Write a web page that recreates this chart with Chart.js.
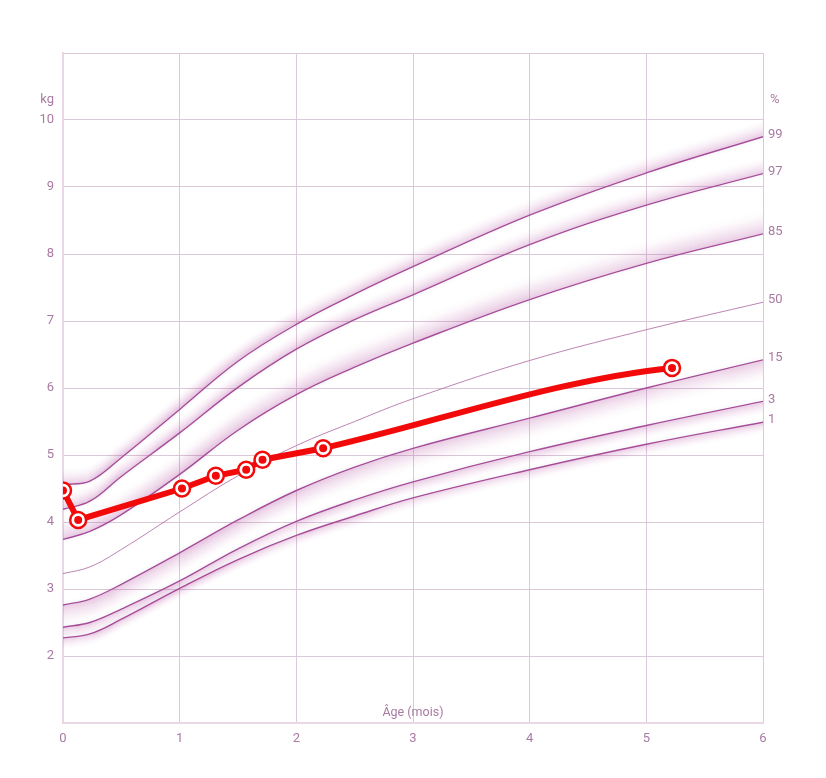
<!DOCTYPE html>
<html>
<head>
<meta charset="utf-8">
<script src="https://cdn.jsdelivr.net/npm/chart.js@4/dist/chart.umd.min.js"></script>
<style>
  html, body { margin: 0; padding: 0; background: #fff; }
  #wrap { width: 826px; height: 778px; }
</style>
</head>
<body>
<div id="wrap"><canvas id="growth" width="826" height="778"></canvas></div>
<script>
// reference curves (age in months, weight in kg)
const ages = [0, 0.23, 0.5, 1, 1.5, 2, 2.5, 3, 4, 5, 6];
const p99 = [4.56, 4.61, 4.96, 5.68, 6.4, 6.95, 7.4, 7.81, 8.58, 9.21, 9.75];
const p97 = [4.19, 4.31, 4.68, 5.33, 6.01, 6.58, 7.02, 7.39, 8.14, 8.73, 9.2];
const p85 = [3.74, 3.86, 4.11, 4.71, 5.37, 5.9, 6.31, 6.67, 7.32, 7.86, 8.3];
const p50 = [3.23, 3.33, 3.59, 4.15, 4.69, 5.14, 5.5, 5.84, 6.41, 6.87, 7.28];
const p15 = [2.76, 2.85, 3.07, 3.54, 4.03, 4.47, 4.82, 5.1, 5.55, 6.0, 6.42];
const p3 = [2.43, 2.5, 2.7, 3.12, 3.6, 4.01, 4.33, 4.6, 5.05, 5.44, 5.8];
const p1 = [2.27, 2.33, 2.55, 3.01, 3.44, 3.8, 4.09, 4.36, 4.78, 5.16, 5.49];

// measured weights
const visitAges = [0, 0.13, 1.02, 1.31, 1.57, 1.71, 2.23, 5.22];
const visitWeights = [4.47, 4.03, 4.5, 4.69, 4.78, 4.93, 5.1, 6.3];

const monthTicks = [0, 1, 2, 3, 4, 5, 6];
const kgTicks = [2, 3, 4, 5, 6, 7, 8, 9, 10];

const TEXT = "#a97ba3";
const GRID = "#dbc8d8";
const RED = "#f20a0a";

function toPoints(xs, ys) {
  return xs.map((x, i) => ({ x: x, y: ys[i] }));
}

const curves = [
  { label: "99", values: p99, band: 18, dir: -1 },
  { label: "97", values: p97, band: 18, dir: -1 },
  { label: "85", values: p85, band: 26, dir: -1 },
  { label: "50", values: p50, band: 0, dir: 0 },
  { label: "15", values: p15, band: 24, dir: 1 },
  { label: "3", values: p3, band: 14, dir: 1 },
  { label: "1", values: p1, band: 12, dir: 1 },
];

const curveDatasets = curves.map((c) => ({
  label: c.label,
  data: toPoints(ages, c.values),
  borderColor: c.band ? "#a64c98" : "rgba(176, 110, 166, 0.85)",
  borderWidth: c.band ? 1.4 : 1,
  pointRadius: 0,
  tension: 0.4,
  order: 10,
  band: c.band,
  bandDir: c.dir,
  percentile: true,
}));

// fuzzy shading on the outer side of each percentile line
const curveBands = {
  id: "curveBands",
  beforeDatasetDraw(chart, args) {
    const ds = chart.data.datasets[args.index];
    if (!ds.band) return;
    const line = args.meta.dataset;
    const area = chart.chartArea;
    const ctx = chart.ctx;
    line.updateControlPoints(area, "x");
    ctx.save();
    ctx.beginPath();
    ctx.rect(area.left, area.top, area.right - area.left, area.bottom - area.top);
    ctx.clip();
    ctx.lineWidth = 1.5;
    for (let k = ds.band; k >= 1; k--) {
      const a = 0.2 * Math.pow(1 - k / (ds.band + 1), 2);
      ctx.strokeStyle = "rgba(176, 70, 156, " + a + ")";
      ctx.beginPath();
      ctx.save();
      ctx.translate(0, ds.bandDir * k);
      line.path(ctx);
      ctx.restore();
      ctx.stroke();
    }
    // faint cool shadow on the inner side
    for (let k = 4; k >= 1; k--) {
      ctx.strokeStyle = "rgba(190, 195, 220, " + 0.08 * (1 - k / 5) + ")";
      ctx.beginPath();
      ctx.save();
      ctx.translate(0, -ds.bandDir * k);
      line.path(ctx);
      ctx.restore();
      ctx.stroke();
    }
    ctx.restore();
  },
};

// visits are joined by straight segments, the long last one eases in
const easedLastVisit = {
  id: "easedLastVisit",
  beforeDatasetDraw(chart, args) {
    const ds = chart.data.datasets[args.index];
    if (!ds.easeLast) return;
    const line = args.meta.dataset;
    line.updateControlPoints(chart.chartArea, "x");
    const pts = line.points;
    const n = pts.length;
    for (let i = 0; i < n - 2; i++) {
      pts[i].cp2x = pts[i].x;
      pts[i].cp2y = pts[i].y;
      pts[i + 1].cp1x = pts[i + 1].x;
      pts[i + 1].cp1y = pts[i + 1].y;
    }
    const a = pts[n - 2];
    const b = pts[n - 1];
    const dx = (b.x - a.x) / 3;
    const dy = (b.y - a.y) / 3;
    a.cp2x = a.x + dx;
    a.cp2y = a.y + dy;
    b.cp1x = b.x - dx;
    b.cp1y = b.y - dy * 0.45;
  },
};

const chartTexts = {
  id: "chartTexts",
  afterDraw(chart) {
    const ctx = chart.ctx;
    const area = chart.chartArea;
    const x = chart.scales.x;
    const y = chart.scales.y;
    ctx.save();
    ctx.fillStyle = TEXT;
    ctx.font = "13px Roboto, 'Liberation Sans', sans-serif";
    ctx.textBaseline = "middle";

    ctx.textAlign = "right";
    ctx.fillText("kg", area.left - 9, y.getPixelForValue(10) - 20);
    ctx.textAlign = "left";
    ctx.fillText("%", area.right + 7, y.getPixelForValue(10) - 20);

    chart.data.datasets.forEach((ds, i) => {
      if (!ds.percentile) return;
      const pts = chart.getDatasetMeta(i).data;
      const last = pts[pts.length - 1];
      ctx.fillText(ds.label, area.right + 5, last.y - 2);
    });

    ctx.textAlign = "center";
    ctx.font = "12.5px Roboto, 'Liberation Sans', sans-serif";
    ctx.fillText("Âge (mois)", x.getPixelForValue(3), area.bottom - 10);
    ctx.restore();
  },
};

new Chart(document.getElementById("growth"), {
  type: "line",
  data: {
    datasets: [
      {
        label: "dots",
        data: toPoints(visitAges, visitWeights),
        showLine: false,
        pointRadius: 4,
        pointBorderWidth: 0,
        pointBackgroundColor: RED,
        order: 1,
      },
      {
        label: "poids",
        data: toPoints(visitAges, visitWeights),
        borderColor: RED,
        borderWidth: 6,
        tension: 0.4,
        pointRadius: 8,
        pointBorderWidth: 2.5,
        pointBorderColor: RED,
        pointBackgroundColor: "#ffffff",
        order: 2,
        easeLast: true,
      },
      ...curveDatasets,
    ],
  },
  options: {
    responsive: false,
    animation: false,
    events: [],
    layout: {
      padding: { top: 53, right: 63, left: 0, bottom: 0 },
    },
    plugins: {
      legend: { display: false },
      tooltip: { enabled: false },
    },
    scales: {
      x: {
        type: "linear",
        min: 0,
        max: 6,
        afterFit: function (scale) {
          scale.height = 55;
        },
        afterBuildTicks: function (scale) {
          scale.ticks = monthTicks.map((v) => ({ value: v }));
        },
        grid: { color: GRID, lineWidth: 1, drawTicks: false },
        border: { color: "#e9d7e5", width: 2 },
        ticks: {
          color: TEXT,
          padding: 8,
          maxRotation: 0,
          font: { family: "Roboto, 'Liberation Sans', sans-serif", size: 13 },
        },
      },
      y: {
        type: "linear",
        min: 1,
        max: 11,
        afterFit: function (scale) {
          scale.width = 63;
        },
        grid: { color: GRID, lineWidth: 1, drawTicks: false },
        border: { color: "#e9d7e5", width: 2 },
        ticks: {
          stepSize: 1,
          color: TEXT,
          padding: 9,
          font: { family: "Roboto, 'Liberation Sans', sans-serif", size: 13 },
          callback: function (value) {
            return kgTicks.includes(value) ? value : "";
          },
        },
      },
    },
  },
  plugins: [curveBands, easedLastVisit, chartTexts],
});
</script>
</body>
</html>
